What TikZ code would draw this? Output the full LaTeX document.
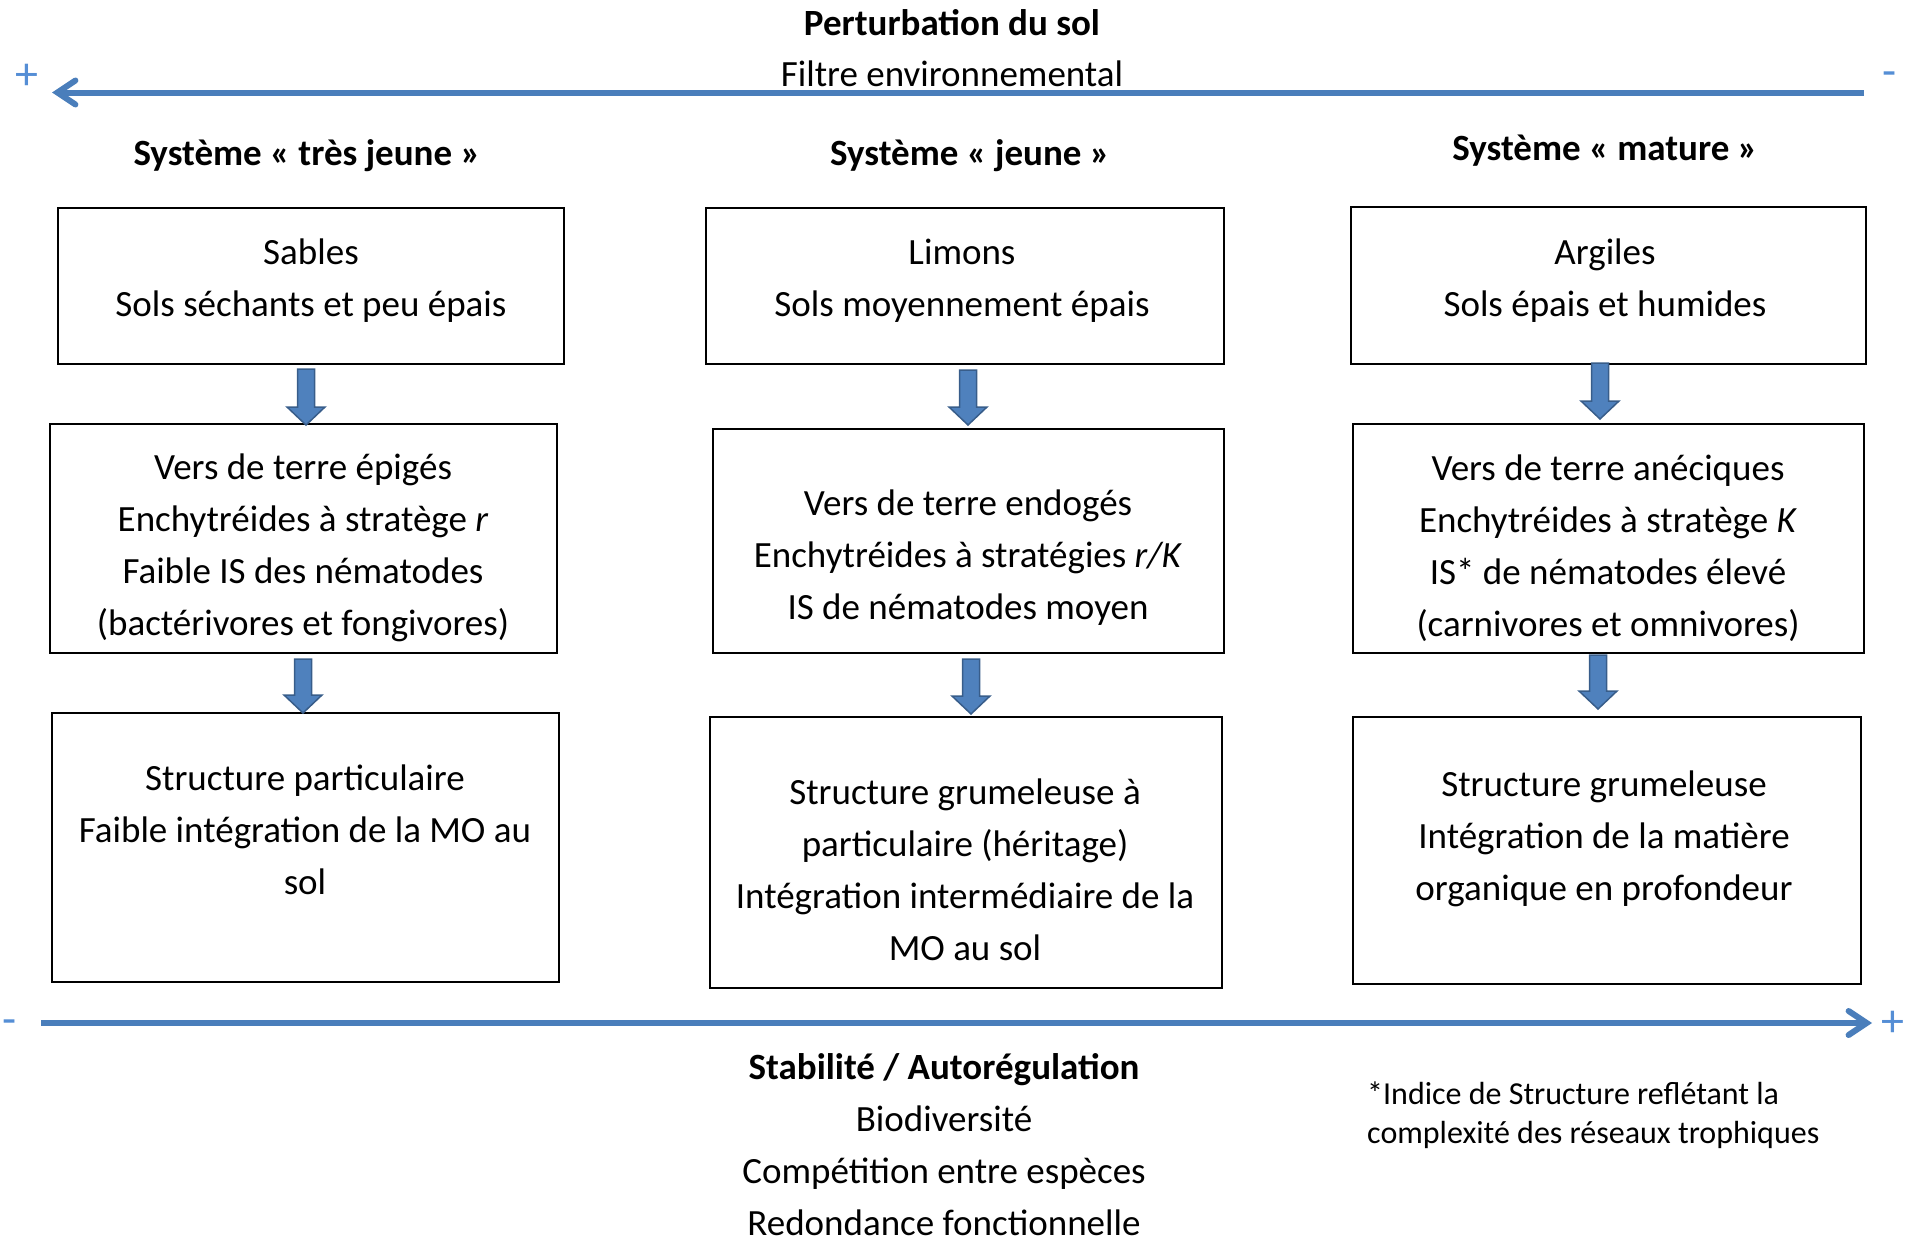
\documentclass[tikz,border=0pt]{standalone}
\usepackage{fontspec}
\setmainfont{Carlito}
\usetikzlibrary{arrows.meta,calc}
\definecolor{axiscol}{RGB}{74,126,187}
\definecolor{signcol}{RGB}{85,142,213}
\definecolor{bafill}{RGB}{79,129,189}
\definecolor{badraw}{RGB}{56,93,138}
\begin{document}
\begin{tikzpicture}[x=1pt,y=-1pt,
  box/.style={draw=black, line width=2pt, inner sep=0pt},
  txt/.style={align=center, inner sep=0pt, font=\fontsize{37}{52}\selectfont},
  hdr/.style={inner sep=0pt, font=\fontsize{37}{52}\selectfont\bfseries},
  foot/.style={align=left, inner sep=0pt, font=\fontsize{32}{39}\selectfont},
  sign/.style={inner sep=0pt, text=signcol, font=\fontsize{46}{50}\selectfont},
  axisarrow/.style={draw=axiscol, line width=6pt, -{Straight Barb[length=18pt,width=24pt,line cap=round]}},
  blockarr/.style={draw=badraw, fill=bafill, line width=1.5pt, line join=miter,
    to path={let \p1=(\tikztostart), \p2=(\tikztotarget) in
      (\x1-8.5pt,\y1) -- (\x1+8.5pt,\y1) -- (\x1+8.5pt,\y2+18pt) -- (\x1+19pt,\y2+18pt)
      -- (\x1,\y2) -- (\x1-19pt,\y2+18pt) -- (\x1-8.5pt,\y2+18pt) -- cycle}}
]
\useasboundingbox (0,0) rectangle (1910,1239);

% title
\node[hdr] (title) at (952,23) {Perturbation du sol};
\node[txt] (filtre) at (952,74) {Filtre environnemental};

% top axis
\coordinate (topR) at (1864,92.5);
\coordinate (topL) at (52,92.5);
\draw[axisarrow] (topR) -- (topL);
\node[sign] (plusTL) at (27,77) {+};
\node[sign] (minusTR) at (1890,79) {-};

% headers
\node[hdr] (h1) at (307,156) {Système « très jeune »};
\node[hdr] (h2) at (970,156) {Système « jeune »};
\node[hdr] (h3) at (1605,151) {Système « mature »};

% boxes row 1
\node[box, minimum width=506, minimum height=156] (b11) at (311,286) {};
\node[box, minimum width=518, minimum height=156] (b12) at (965,286) {};
\node[box, minimum width=515, minimum height=157] (b13) at (1608.5,285.5) {};
\node[txt] (t11) at (311,281) {Sables\\Sols séchants et peu épais};
\node[txt] (t12) at (962,281) {Limons\\Sols moyennement épais};
\node[txt] (t13) at (1605,280.5) {Argiles\\Sols épais et humides};

% boxes row 2
\node[box, minimum width=507, minimum height=229] (b21) at (303.5,538.5) {};
\node[box, minimum width=511, minimum height=224] (b22) at (968.5,541) {};
\node[box, minimum width=511, minimum height=229] (b23) at (1608.5,538.5) {};
\node[txt] (t21) at (303,548) {Vers de terre épigés\\Enchytréides à stratège \textit{r}\\Faible IS des nématodes\\(bactérivores et fongivores)};
\node[txt] (t22) at (968,557.5) {Vers de terre endogés\\Enchytréides à stratégies \textit{r/K}\\IS de nématodes moyen};
\node[txt] (t23) at (1608,548) {Vers de terre anéciques\\Enchytréides à stratège \textit{K}\\IS* de nématodes élevé\\(carnivores et omnivores)};

% boxes row 3
\node[box, minimum width=507, minimum height=269] (b31) at (305.5,847.5) {};
\node[box, minimum width=512, minimum height=271] (b32) at (966,852.5) {};
\node[box, minimum width=508, minimum height=267] (b33) at (1607,850.5) {};
\node[txt] (t31) at (305,829.3) {Structure particulaire\\Faible intégration de la MO au\\sol};
\node[txt] (t32) at (965,869.5) {Structure grumeleuse à\\particulaire (héritage)\\Intégration intermédiaire de la\\MO au sol};
\node[txt] (t33) at (1604,839) {Structure grumeleuse\\Intégration de la matière\\organique en profondeur};

% block arrows
\draw[blockarr] ([shift={(-5pt,-4pt)}]b11.south) to ([shift={(0pt,-2pt)}]b21.north);
\draw[blockarr] ([shift={(3pt,-5pt)}]b12.south) to ([shift={(0pt,3pt)}]b22.north);
\draw[blockarr] ([shift={(-8.5pt,2pt)}]b13.south) to ([shift={(0pt,4pt)}]b23.north);
\draw[blockarr] ([shift={(-0.5pt,-5pt)}]b21.south) to ([shift={(0pt,-1pt)}]b31.north);
\draw[blockarr] ([shift={(2.5pt,-5pt)}]b22.south) to ([shift={(0pt,2pt)}]b32.north);
\draw[blockarr] ([shift={(-10.5pt,-1pt)}]b23.south) to ([shift={(0pt,7pt)}]b33.north);

% bottom axis
\coordinate (botL) at (41,1023);
\coordinate (botR) at (1872,1023);
\draw[axisarrow] (botL) -- (botR);
\node[sign] (minusBL) at (10,1027) {-};
\node[sign] (plusBR) at (1893,1024) {+};

% bottom texts
\node[txt] (stab) at (944,1145) {\textbf{Stabilité / Autorégulation}\\Biodiversité\\Compétition entre espèces\\Redondance fonctionnelle};
\node[foot, anchor=west] (fn) at (1367,1115) {*Indice de Structure reflétant la\\complexité des réseaux trophiques};
\end{tikzpicture}
\end{document}
